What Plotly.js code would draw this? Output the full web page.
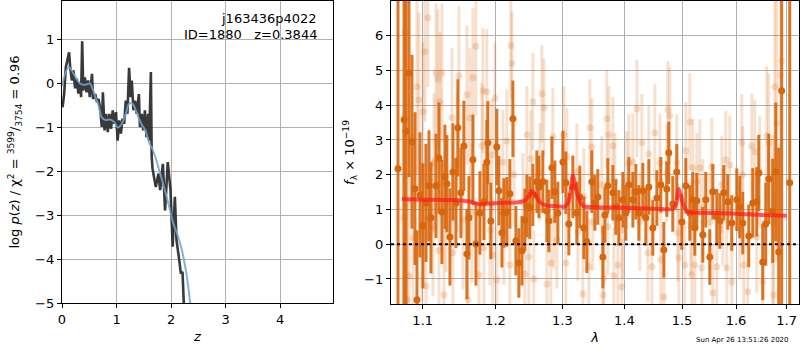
<!DOCTYPE html>
<html>
<head>
<meta charset="utf-8">
<script src="https://cdn.plot.ly/plotly-3.0.1.min.js"></script>
<style>html,body{margin:0;padding:0;background:#fff;}#chart{width:800px;height:350px;}</style>
</head>
<body>
<div id="chart"></div>
<script>
// ---- Left panel: log p(z) ----
const pzZ = [0.01,0.04,0.07,0.10,0.13,0.15,0.18,0.21,0.24,0.27,0.30,0.33,0.35,0.37,0.39,0.42,0.45,0.48,0.51,0.55,0.57,0.61,0.64,0.67,0.70,0.73,0.75,0.78,0.81,0.84,0.87,0.90,0.93,0.96,0.99,1.02,1.05,1.08,1.11,1.14,1.17,1.20,1.23,1.26,1.28,1.31,1.34,1.37,1.41,1.43,1.46,1.49,1.52,1.55,1.58,1.60,1.63,1.645,1.66,1.72,1.77,1.80,1.85,1.89,1.94,1.99,2.03,2.07,2.10,2.15,2.18,2.21,2.24];
const pzLog = [-0.54,-0.23,0.37,0.52,0.71,0.37,0.07,0.30,-0.11,0.11,-0.23,0.03,-0.31,0.96,-0.16,0.14,-0.20,0.07,-0.31,0.22,-0.35,-0.24,-0.42,-0.35,-0.58,-0.99,-0.20,-1.07,-0.69,-1.11,-0.69,-1.03,-0.61,-0.92,-0.65,-1.30,-0.84,-1.14,-0.80,-0.92,-0.39,-0.69,0.36,-0.31,0.07,-0.61,-0.39,-0.69,-0.24,-0.99,-0.69,-1.07,-0.61,-1.22,-0.69,-1.30,0.26,-1.67,-1.94,-2.36,-2.05,-2.43,-1.83,-2.89,-1.79,-2.43,-3.72,-2.58,-3.57,-4.02,-4.33,-4.29,-5.2];
const smZ = [0,0.04,0.09,0.13,0.20,0.27,0.33,0.40,0.45,0.51,0.57,0.61,0.67,0.73,0.80,0.88,0.96,1.02,1.08,1.17,1.23,1.29,1.35,1.41,1.47,1.53,1.60,1.68,1.80,1.95,2.04,2.13,2.20,2.29,2.36];
const smLog = [-0.05,0.15,0.32,0.37,0.25,0.10,0.00,-0.03,-0.02,0.00,-0.15,-0.30,-0.50,-0.77,-0.83,-0.82,-0.88,-1.00,-0.95,-0.69,-0.46,-0.45,-0.60,-0.80,-0.95,-1.07,-1.35,-1.56,-2.05,-2.73,-3.18,-3.49,-3.80,-4.40,-5.10];

// ---- Right panel: spectrum ----
const lamA = [1.068,1.0757,1.0783,1.0821,1.086,1.0899,1.0925,1.0964,1.1003,1.1043,1.1083,1.1109,1.1176,1.1216,1.1256,1.1296,1.1323,1.1364,1.1405,1.1446,1.1473,1.1514,1.1555,1.1597,1.1625,1.1681,1.1723,1.1779,1.1836,1.1877,1.1891,1.1934,1.2020,1.2049,1.2093,1.2122,1.2165,1.2209,1.2253,1.2297,1.2341,1.2386,1.2430,1.2460,1.2504,1.2549,1.2609,1.2640,1.2700,1.2761,1.2792,1.2838,1.2884,1.2930,1.3008,1.3054,1.3101,1.3164,1.3227,1.3274,1.3338,1.3386,1.3466,1.3515,1.3563,1.3645,1.3678,1.3726,1.3809,1.3858,1.3908,1.3975,1.4025,1.4075,1.4143,1.4194,1.4245,1.4313,1.4364,1.4416,1.4485,1.4555,1.4624,1.4677,1.4729,1.4764,1.4835,1.4906,1.4996,1.5068,1.5140,1.5194,1.5231,1.5267,1.5377,1.5432,1.5506,1.5562,1.5637,1.5693,1.5768,1.5843,1.5919,1.6015,1.6072,1.6130,1.6246,1.6324,1.6402,1.6441,1.6520,1.6579,1.6638,1.6718,1.6779,1.6838,1.6898,1.7061];
const fluxA = [2.17,3.58,3.25,4.93,2.95,1.60,-1.60,1.42,0.53,1.19,1.68,0.76,1.68,2.48,0.93,1.94,1.74,0.21,2.08,1.19,3.35,1.48,2.83,-0.28,0.76,2.43,0.01,0.90,1.22,2.37,2.92,0.67,2.80,1.54,0.33,0.90,0.93,1.45,3.61,0.10,-0.54,-0.19,0.70,1.10,1.05,1.42,1.80,1.65,1.80,0.96,0.67,2.20,1.51,0.90,2.37,1.77,0.58,1.65,0.90,1.36,0.47,0.07,1.80,1.19,1.36,-0.37,0.84,1.68,1.48,1.07,0.76,1.28,0.90,1.71,1.28,1.51,0.90,1.54,0.76,1.65,0.47,1.33,1.71,-0.16,1.59,2.63,1.16,2.08,0.64,1.68,0.90,1.28,0.47,1.25,0.27,1.28,-0.37,1.51,0.79,0.67,1.48,1.22,0.61,1.28,1.07,0.61,0.24,1.19,1.22,2.05,-0.51,0.58,1.88,0.96,2.08,-0.22,4.42,1.77];
const errA = [12,12,12,3.0,2.5,2.2,2.0,1.8,1.8,1.7,1.6,1.6,1.5,1.6,1.5,1.5,1.4,1.4,1.4,1.3,1.4,1.3,1.3,1.3,1.2,1.3,1.2,1.2,1.1,1.2,1.2,1.1,1.1,1.0,1.0,1.0,1.0,1.0,1.1,1.0,1.0,1.0,0.9,0.9,0.9,0.9,0.9,0.9,0.9,0.9,0.9,0.9,0.9,0.9,0.9,0.9,0.9,0.9,0.9,0.9,0.9,0.9,0.9,0.8,0.8,0.9,0.8,0.8,0.8,0.8,0.8,0.8,0.8,0.8,0.8,0.8,0.8,0.8,0.8,0.8,0.8,0.8,0.8,0.8,0.8,0.9,0.8,0.8,0.8,0.8,0.8,0.8,0.8,0.8,0.8,0.8,0.8,0.8,0.8,0.8,0.8,0.8,0.8,0.9,0.9,0.9,0.9,1.0,1.0,1.1,1.1,1.2,1.3,1.5,2.0,3.0,12,12];

const lamB = [1.0744,1.0770,1.0795,1.0821,1.0873,1.0925,1.0951,1.0990,1.1003,1.1030,1.1043,1.1069,1.1136,1.1149,1.1176,1.1202,1.1216,1.1229,1.1256,1.1283,1.1310,1.1391,1.1405,1.1460,1.1487,1.1542,1.1597,1.1611,1.1639,1.1667,1.1681,1.1723,1.1765,1.1807,1.1822,1.1836,1.1877,1.1920,1.1948,1.1963,1.1992,1.2020,1.2107,1.2122,1.2165,1.2209,1.2224,1.2238,1.2268,1.2400,1.2430,1.2460,1.2489,1.2519,1.2549,1.2564,1.2655,1.2685,1.2716,1.2761,1.2822,1.2853,1.2868,1.2915,1.3023,1.3054,1.3070,1.3227,1.3243,1.3322,1.3338,1.3418,1.3434,1.3466,1.3482,1.3628,1.3645,1.3661,1.3710,1.3726,1.3743,1.3809,1.3826,1.3842,1.3892,1.3958,1.3975,1.4041,1.4075,1.4143,1.4211,1.4262,1.4296,1.4399,1.4416,1.4468,1.4520,1.4607,1.4624,1.4677,1.4729,1.4747,1.4782,1.4906,1.4924,1.4942,1.5050,1.5068,1.5140,1.5158,1.5176,1.5194,1.5231,1.5267,1.5322,1.5359,1.5377,1.5506,1.5543,1.5562,1.5637,1.5731,1.5749,1.5805,1.5824,1.5881,1.5919,1.6072,1.6111,1.6130,1.6149,1.6226,1.6304,1.6363,1.6402,1.6461,1.6520,1.6599,1.6638,1.6718,1.6738,1.6758,1.6798,1.6878,1.6898];
const fluxB = [0.76,6.09,-1.60,-0.91,0.18,4.53,4.16,0.35,3.81,5.54,-1.20,6.52,0.50,2.34,4.93,4.76,-0.19,4.10,4.93,-1.46,1.19,3.64,-0.25,2.34,4.85,0.70,4.30,-1.58,3.64,0.90,4.79,5.70,-0.88,2.83,4.42,-0.10,4.39,0.41,2.57,-0.31,4.20,-1.03,2.37,0.33,2.97,-0.60,5.71,5.20,2.00,1.22,-0.86,3.15,-0.37,2.46,4.10,-1.00,2.08,4.33,3.93,-1.15,-0.54,3.09,0.70,0.12,3.15,-0.54,2.52,2.08,0.35,-1.43,1.36,-0.65,3.35,2.80,0.64,1.71,-1.46,-0.97,3.61,0.50,3.15,2.83,-0.91,1.80,-0.60,-1.23,0.41,1.85,2.34,2.37,3.90,0.64,2.92,-0.25,2.60,-0.65,3.21,2.34,-0.45,-1.52,2.05,3.87,3.70,2.34,0.33,-0.39,-0.60,2.69,3.52,0.50,-0.88,2.20,-0.60,1.80,2.20,-0.68,1.05,0.64,2.23,-1.40,-0.65,1.71,0.79,2.43,-0.68,2.28,-1.09,0.41,2.92,2.00,-0.60,-1.37,2.83,2.66,0.21,2.08,-1.09,3.12,2.92,0.64,-1.46,4.53,3.49,4.88,5.27];
const errB = [3.0,3.0,3.0,3.0,3.0,2.5,2.5,2.0,2.0,2.0,2.0,2.0,2.0,2.0,2.0,2.0,2.0,2.0,2.0,2.0,2.0,2.0,2.0,2.0,2.0,2.0,2.0,2.0,2.0,2.0,2.0,2.0,2.0,1.8,1.8,1.8,1.8,1.6,1.6,1.6,1.6,1.6,1.5,1.5,1.5,1.5,1.5,1.5,1.5,1.4,1.4,1.4,1.4,1.4,1.4,1.4,1.4,1.4,1.4,1.4,1.4,1.4,1.4,1.4,1.4,1.4,1.4,1.4,1.4,1.4,1.4,1.4,1.4,1.4,1.4,1.4,1.4,1.4,1.4,1.4,1.4,1.4,1.4,1.4,1.4,1.4,1.4,1.4,1.4,1.4,1.4,1.4,1.4,1.4,1.4,1.4,1.4,1.4,1.4,1.4,1.4,1.4,1.4,1.4,1.4,1.4,1.4,1.4,1.4,1.4,1.4,1.4,1.4,1.4,1.4,1.4,1.4,1.4,1.4,1.4,1.4,1.4,1.4,1.4,1.4,1.4,1.4,1.4,1.4,1.4,1.4,1.5,1.5,1.5,1.6,1.6,1.8,2.0,2.0,2.5,3.0,3.5,4.0,4.0];

const modelLam = [1.073,1.100,1.140,1.165,1.178,1.190,1.205,1.230,1.243,1.249,1.253,1.258,1.265,1.275,1.290,1.304,1.310,1.3135,1.3164,1.320,1.326,1.333,1.345,1.400,1.450,1.480,1.487,1.491,1.494,1.498,1.503,1.510,1.520,1.550,1.600,1.650,1.700];
const modelFlux = [1.30,1.28,1.27,1.22,1.15,1.17,1.19,1.20,1.26,1.40,1.53,1.45,1.22,1.12,1.10,1.09,1.25,1.60,1.98,1.70,1.30,1.10,1.07,1.05,1.02,1.01,1.05,1.30,1.59,1.40,1.10,0.94,0.91,0.90,0.88,0.84,0.82];

const xTicksR = [1.1,1.2,1.3,1.4,1.5,1.6,1.7];
const xTickTextR = ['1.1','1.2','1.3','1.4','1.5','1.6','1.7'];

const orange = '#d8660c';
const orangeLight = 'rgba(216,102,12,0.2)';
const font = {family:'DejaVu Sans', size:13, color:'#000'};

const traces = [
  {x:pzZ, y:pzLog, xaxis:'x', yaxis:'y', mode:'lines', line:{color:'rgba(40,40,40,0.92)', width:2.6}, hoverinfo:'skip'},
  {x:smZ, y:smLog, xaxis:'x', yaxis:'y', mode:'lines', line:{color:'rgba(110,165,210,0.85)', width:2, shape:'spline'}, hoverinfo:'skip'},
  {x:lamB, y:fluxB, xaxis:'x2', yaxis:'y2', mode:'markers', marker:{color:orangeLight, size:7},
   error_y:{type:'data', array:errB, visible:true, color:orangeLight, thickness:3, width:0}},
  {x:lamA, y:fluxA, xaxis:'x2', yaxis:'y2', mode:'markers', marker:{color:orange, size:7},
   error_y:{type:'data', array:errA, visible:true, color:'rgba(216,102,12,0.9)', thickness:3, width:0}},
  {x:modelLam, y:modelFlux, xaxis:'x2', yaxis:'y2', mode:'lines', line:{color:'rgba(255,25,25,0.72)', width:4, shape:'spline'}}
];

const axBase = {showgrid:true, gridcolor:'#b0b0b0', gridwidth:1, zeroline:false, showline:true, mirror:true,
  linecolor:'#000', linewidth:1.2, ticks:'outside', ticklen:4, tickcolor:'#000', tickfont:font};

const layout = {
  width:800, height:350, margin:{l:0,r:0,t:0,b:0}, showlegend:false,
  paper_bgcolor:'#fff', plot_bgcolor:'#fff', font:font,
  xaxis: Object.assign({}, axBase, {domain:[62/800, 333/800], range:[0,4.97], tickvals:[0,1,2,3,4], anchor:'y',
    title:{text:'<i>z</i>', font:font, standoff:6}}),
  yaxis: Object.assign({}, axBase, {domain:[1-303/350, 1-1/350], range:[-5,1.88], tickvals:[-5,-4,-3,-2,-1,0,1], anchor:'x',
    title:{text:'log <i>p</i>(<i>z</i>) / χ<sup>2</sup> = <sup>3599</sup>/<sub>3754</sub> = 0.96', font:font, standoff:12}}),
  xaxis2: Object.assign({}, axBase, {domain:[391/800, 799/800], type:'log', range:[0.02493,0.23684], tickvals:xTicksR, ticktext:xTickTextR, anchor:'y2',
    title:{text:'<i>λ</i>', font:font, standoff:6}}),
  yaxis2: Object.assign({}, axBase, {domain:[1-304/350, 1-1/350], range:[-1.72,7.0], tickvals:[-1,0,1,2,3,4,5,6], anchor:'x2',
    title:{text:'<i>f</i><sub>λ</sub> × 10<sup>−19</sup>', font:font, standoff:6}}),
  shapes:[{type:'line', xref:'x2 domain', yref:'y2', x0:0, x1:1, y0:0, y1:0, line:{color:'#000', width:2, dash:'dot'}, layer:'above'}],
  annotations:[
    {xref:'paper', yref:'paper', x:319/800, y:1-19/350, xanchor:'right', yanchor:'middle', text:'j163436p4022', showarrow:false, font:font},
    {xref:'paper', yref:'paper', x:319/800, y:1-35/350, xanchor:'right', yanchor:'middle', text:'ID=1880   z=0.3844', showarrow:false, font:font},
    {xref:'paper', yref:'paper', x:742/800, y:1-340/350, xanchor:'center', yanchor:'middle', text:'Sun Apr 26 13:51:26 2020', showarrow:false, font:{family:'DejaVu Sans', size:7, color:'#000'}}
  ]
};

Plotly.newPlot('chart', traces, layout, {staticPlot:true});
</script>
</body>
</html>
